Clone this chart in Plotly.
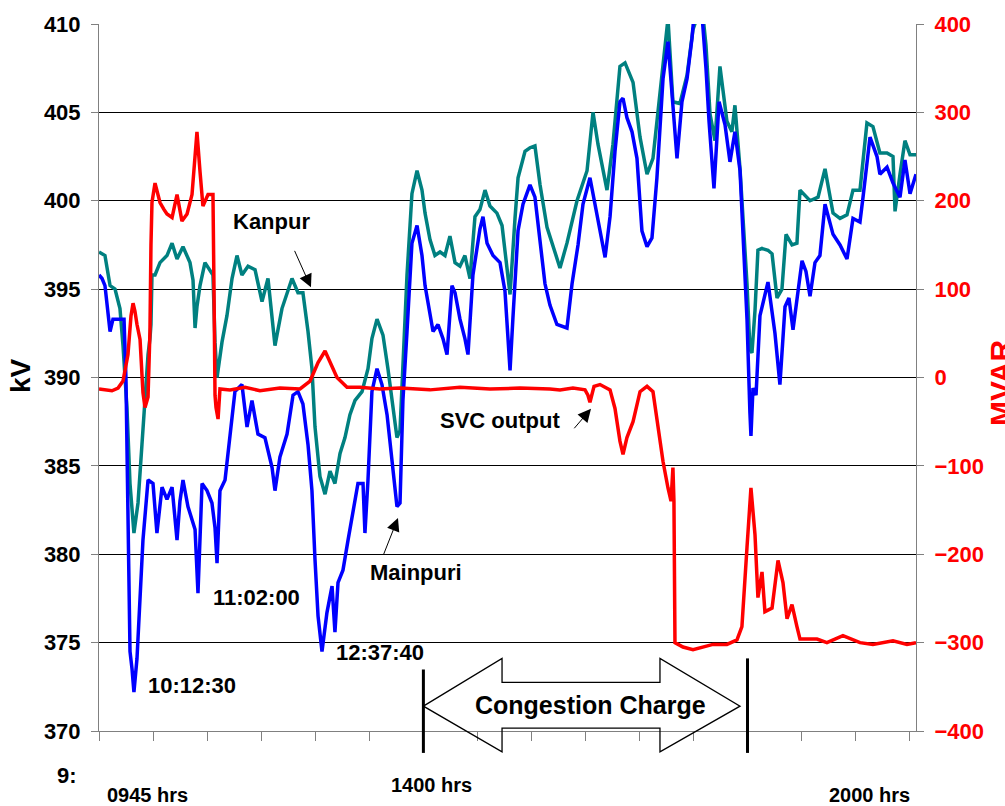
import plotly.graph_objects as go

# time in minutes after 09:45
kanpur_t = [0, 4.7, 8.7, 12.6, 16.5, 18.9, 22.0, 24.4, 27.5, 30.7, 33.8, 36.2, 38.6, 40.1, 40.9, 41.7,
            44.1, 48.0, 53.5, 57.5, 61.4, 66.1, 71.6, 74.0, 75.6, 77.1, 79.5, 83.4, 87.4, 89.7, 91.3,
            92.9, 96.8, 100.7, 104.7, 108.6, 112.5, 117.3, 122.8, 128.3, 133.0, 138.5, 144.0, 151.9,
            156.6, 160.5, 164.5, 167.6, 170.0, 173.9, 177.9, 181.8, 185.7, 189.7, 193.6, 197.5, 201.5,
            207.0, 211.7, 214.8, 218.8, 223.5, 227.4, 231.4, 234.5, 236.9, 239.2, 242.4, 246.3, 250.3,
            254.2, 256.6, 260.5, 264.4, 268.4, 272.3, 276.2, 280.2, 284.1, 288.0, 292.0, 295.9, 299.8,
            303.8, 307.7, 313.2, 317.2, 321.1, 323.5, 327.4, 329.8, 335.3, 339.2, 343.1, 347.1, 352.6,
            360.4, 362.8, 368.3, 376.2, 384.1, 388.8, 392.7, 399.8, 404.5, 410.0, 414.0, 420.3, 425.8,
            431.3, 436.0, 441.5, 447.8, 451.7, 457.2, 462.8, 467.5, 471.4, 475.3, 477.7, 480.9, 484.8,
            488.7, 494.2, 498.1, 500.5, 504.5, 510.0, 512.3, 513.9, 516.3, 518.6, 521.8, 526.5, 529.7,
            533.6, 537.5, 540.7, 545.4, 549.3, 551.7, 559.6, 565.9, 571.4, 577.7, 583.2, 588.7, 593.4,
            598.9, 604.4, 609.1, 614.6, 620.2, 624.9, 626.5, 630.4, 634.3, 638.3, 643.0]
kanpur_kv = [397.1, 396.9, 395.2, 395.0, 393.9, 391.8, 388.3, 384.0, 381.2, 382.9, 386.2, 389.0, 391.3, 392.2, 393.0, 395.8,
             395.8, 396.5, 396.9, 397.6, 396.7, 397.4, 396.5, 395.5, 392.8, 394.0, 395.2, 396.5, 396.1, 395.8, 392.0,
             390.0, 392.0, 393.5, 395.6, 396.9, 395.8, 396.3, 396.1, 394.3, 395.6, 391.8, 393.9, 395.6,
             394.8, 394.8, 392.6, 390.5, 387.2, 384.4, 383.4, 384.7, 384.0, 385.7, 386.6, 387.9, 388.7,
             389.2, 390.5, 392.2, 393.3, 392.4, 390.5, 388.1, 386.6, 387.0, 390.5, 395.8, 400.4, 401.7,
             400.6, 399.3, 397.8, 396.9, 397.1, 396.9, 398.0, 396.5, 396.3, 396.9, 395.6, 399.1, 399.5,
             400.6, 399.7, 399.3, 398.6, 396.0, 394.7, 399.0, 401.3, 402.8, 403.0, 403.1, 400.9, 398.5,
             396.8, 396.2, 397.6, 400.0, 401.7, 405.0, 403.2, 400.6, 403.2, 407.6, 407.8, 406.7, 403.6,
             401.5, 402.4, 406.2, 410.3, 405.6, 405.5, 407.1, 409.7, 410.5, 410.5, 408.8, 404.9, 403.4,
             407.6, 404.5, 403.9, 405.4, 401.8, 395.3, 391.6, 391.4, 393.8, 397.2, 397.3, 397.2, 397.0,
             394.5, 395.0, 398.1, 397.5, 397.6, 400.6, 400.0, 400.2, 401.8, 399.3, 399.0, 399.2, 400.6,
             400.6, 404.4, 404.2, 402.7, 402.7, 402.5, 399.4, 401.5, 403.4, 402.6, 402.6]

mainpuri_t = [0, 2.4, 4.7, 7.1, 8.7, 11.0, 19.7, 21.2, 22.8, 24.4, 26.0, 27.5, 29.9, 32.3, 34.6, 38.6,
              42.5, 45.6, 49.6, 53.5, 57.5, 61.4, 63.7, 66.1, 70.0, 75.6, 77.9, 81.1, 85.0, 88.9, 91.3,
              92.9, 95.2, 99.2, 103.1, 107.0, 112.5, 116.5, 120.4, 125.1, 130.6, 136.2, 138.5, 142.4,
              148.0, 152.7, 156.6, 160.5, 164.5, 167.6, 170.0, 172.4, 175.5, 179.4, 183.4, 185.7, 188.1,
              192.0, 196.0, 199.9, 203.8, 207.8, 209.3, 211.7, 214.8, 218.8, 222.7, 226.7, 230.6, 234.5,
              236.9, 239.2, 242.4, 246.3, 250.3, 254.2, 256.6, 258.9, 262.9, 266.8, 270.7, 273.9, 277.8,
              280.2, 284.1, 288.0, 290.4, 294.3, 299.8, 302.2, 305.4, 310.1, 315.6, 319.5, 323.5, 325.8,
              329.8, 333.7, 339.2, 343.1, 347.1, 351.0, 354.9, 360.4, 368.3, 372.3, 377.0, 380.9, 386.4,
              390.4, 395.9, 398.3, 402.2, 406.1, 410.0, 412.4, 415.5, 419.5, 423.4, 427.3, 431.3, 435.2,
              439.1, 443.9, 447.8, 451.7, 454.9, 458.8, 462.8, 466.7, 468.3, 474.6, 477.7, 480.1, 484.0,
              488.0, 492.7, 496.6, 500.5, 504.5, 507.6, 510.0, 512.3, 513.1, 514.7, 517.1, 520.2, 526.5,
              532.0, 535.9, 539.9, 543.0, 546.2, 550.1, 553.3, 556.4, 559.6, 563.5, 567.4, 571.4, 577.7,
              583.2, 588.7, 593.4, 598.9, 601.3, 606.8, 612.3, 614.6, 620.2, 624.9, 630.4, 634.3, 638.3, 643.0]
mainpuri_kv = [395.8, 395.6, 395.2, 393.5, 392.6, 393.3, 393.3, 390.0, 381.9, 374.5, 373.5, 372.2, 374.1, 377.5, 380.8, 384.2,
               384.0, 381.2, 383.8, 383.1, 383.8, 380.8, 383.0, 384.2, 382.7, 381.4, 377.8, 384.0, 383.6, 382.9, 381.5,
               379.5, 383.6, 384.2, 386.8, 389.2, 389.6, 387.2, 388.7, 386.8, 386.6, 384.9, 383.6, 385.5,
               386.8, 389.0, 389.2, 388.5, 386.2, 383.6, 379.7, 376.5, 374.5, 376.7, 378.2, 375.6, 378.4,
               379.1, 380.8, 382.3, 384.0, 384.0, 381.2, 384.2, 389.2, 390.5, 389.6, 387.9, 385.3, 382.7,
               382.9, 388.7, 392.6, 397.6, 398.6, 396.9, 395.2, 394.3, 392.6, 393.0, 392.2, 391.3, 395.2,
               394.8, 393.3, 392.2, 391.3, 395.8, 398.4, 399.1, 397.6, 396.9, 396.5, 394.9, 390.4, 393.4,
               398.3, 399.8, 400.9, 400.2, 397.5, 395.3, 394.1, 393.0, 392.8, 395.3, 397.5, 399.8, 401.3,
               399.8, 397.6, 396.8, 399.1, 402.8, 405.6, 405.8, 404.7, 403.9, 402.4, 398.3, 397.4, 397.9,
               401.3, 406.9, 409.0, 405.6, 402.4, 405.6, 406.9, 409.2, 410.5, 410.5, 407.5, 404.5, 400.7,
               405.6, 404.3, 402.2, 403.9, 401.7, 397.0, 393.3, 388.0, 386.7, 389.4, 389.0, 393.5, 395.4,
               392.5, 389.6, 394.0, 394.5, 392.7, 395.0, 396.6, 396.0, 394.6, 396.5, 396.9, 399.8, 398.1,
               397.5, 396.7, 399.0, 398.8, 400.2, 403.6, 402.5, 401.5, 401.9, 401.0, 400.2, 402.3, 400.4, 401.5]

svc_t = [0, 5.5, 10.2, 15.0, 18.9, 22.8, 25.2, 26.8, 28.3, 29.9, 32.3, 34.6, 36.2, 38.6, 40.1, 40.9, 41.7,
         44.1, 46.4, 48.0, 51.2, 53.5, 57.5, 61.4, 65.3, 69.3, 73.2, 75.6, 77.1, 79.5, 81.8, 85.8, 89.7,
         90.5, 91.3, 92.1, 93.7, 95.2, 103.1, 114.9, 126.7, 142.4, 158.2, 166.1, 172.4, 177.9, 181.8,
         187.3, 195.2, 205.4, 221.1, 236.9, 260.5, 284.1, 307.7, 331.3, 354.9, 362.8, 373.0, 382.5,
         384.8, 386.4, 389.6, 394.3, 402.2, 406.1, 410.0, 412.4, 415.5, 420.3, 425.8, 431.3, 436.0,
         439.9, 443.9, 447.8, 450.2, 451.7, 452.5, 453.3, 459.6, 467.5, 475.3, 483.2, 494.2, 502.1,
         506.0, 508.4, 510.0, 513.1, 516.3, 518.6, 521.8, 524.1, 529.7, 534.4, 538.3, 541.5, 545.4,
         549.3, 551.7, 565.1, 572.9, 585.5, 598.9, 609.1, 624.9, 635.9, 643.0]
svc_mvar = [-13, -14, -15, -12, -4, 26, 70, 84, 75, 60, 43, -17, -34, -22, 52, 150, 198,
            220, 205, 198, 190, 185, 181, 207, 177, 185, 207, 258, 278, 233, 194, 207, 207,
            100, -20, -34, -47, -13, -14, -11, -15, -12, -13, -4, 17, 30, 17,
            0, -11, -11, -13, -12, -14, -11, -13, -12, -13, -14, -12, -14,
            -20, -28, -10, -8, -14, -35, -72, -87, -68, -50, -16, -10, -16,
            -53, -95, -125, -140, -102, -140, -300, -305, -308, -305, -302, -302, -297,
            -282, -222, -192, -125, -178, -249, -220, -265, -261, -207, -232, -273, -257,
            -282, -296, -296, -300, -292, -300, -302, -298, -302, -300]

kv_ticks = [370, 375, 380, 385, 390, 395, 400, 405, 410]
mvar_ticks = [-400, -300, -200, -100, 0, 100, 200, 300, 400]

FONT = "Liberation Sans"

fig = go.Figure()
fig.add_trace(go.Scatter(x=kanpur_t, y=kanpur_kv, mode="lines", name="Kanpur",
                         line=dict(color="#008080", width=3.5)))
fig.add_trace(go.Scatter(x=mainpuri_t, y=mainpuri_kv, mode="lines", name="Mainpuri",
                         line=dict(color="#0000FF", width=3.5)))
fig.add_trace(go.Scatter(x=svc_t, y=svc_mvar, mode="lines", name="SVC output", yaxis="y2",
                         line=dict(color="#FF0000", width=3.5)))

fig.update_layout(
    width=1005, height=806,
    margin=dict(l=99, r=89, t=20, b=75),
    paper_bgcolor="white", plot_bgcolor="white",
    showlegend=False,
    font=dict(family=FONT, size=22, color="black", weight="bold"),
    xaxis=dict(range=[0, 643], tickmode="linear", tick0=0, dtick=42.5,
               showticklabels=False, ticks="outside", ticklen=9, tickwidth=1, tickcolor="#808080",
               showgrid=False, zeroline=False, showline=True, linecolor="#808080", linewidth=1),
    yaxis=dict(range=[370, 410], tickmode="array", tickvals=kv_ticks,
               ticks="outside", ticklen=7, tickcolor="#808080", ticklabelstandoff=6,
               tickfont=dict(family=FONT, size=22, color="black", weight="bold"),
               showgrid=True, gridcolor="#000000", gridwidth=1,
               zeroline=False, showline=True, linecolor="#808080", linewidth=1),
    yaxis2=dict(range=[-400, 400], tickmode="array", tickvals=mvar_ticks, overlaying="y", side="right",
                ticks="outside", ticklen=7, tickcolor="#808080", ticklabelstandoff=6,
                tickfont=dict(family=FONT, size=22, color="#FF0000", weight="bold"),
                showgrid=False, zeroline=False, showline=True, linecolor="#808080", linewidth=1),
)

bold = dict(family=FONT, size=22, color="black", weight="bold")
labels = [
    ("Kanpur", 135.4, 398.8),
    ("11:02:00", 123.6, 377.55),
    ("10:12:30", 73.2, 372.55),
    ("12:37:40", 221.1, 374.45),
    ("Mainpuri", 249.5, 378.95),
    ("SVC output", 315.6, 387.56),
]
for txt, xv, yv in labels:
    fig.add_annotation(x=xv, y=yv, xref="x", yref="y", text=txt, showarrow=False, font=bold,
                       xanchor="center", yanchor="middle")

# pointer arrows (tip in data coords, tail offset in px)
for xv, yv, ax, ay in [(166.8, 395.1, -17, -38), (235.3, 382.05, -15, 38), (387.2, 388.23, -18, 21)]:
    fig.add_annotation(x=xv, y=yv, xref="x", yref="y", text="", showarrow=True,
                       ax=ax, ay=ay, arrowhead=2, arrowsize=2.6, arrowwidth=1, arrowcolor="black")

# Congestion charge double arrow (x in minutes, y in paper fraction)
cc_start, cc_end = 255.3, 510.4
path = ("M 255.3,0.0352 L 317.2,0.1027 L 317.2,0.0689 L 441.5,0.0689 L 441.5,0.1027 "
        "L 504.5,0.0352 L 441.5,-0.0295 L 441.5,0.0042 L 317.2,0.0042 L 317.2,-0.0295 Z")
fig.add_shape(type="path", path=path, xref="x", yref="paper",
              line=dict(color="black", width=1.3), fillcolor="rgba(0,0,0,0)")
fig.add_shape(type="line", x0=cc_start, x1=cc_start, y0=-0.031, y1=0.087, xref="x", yref="paper",
              line=dict(color="black", width=3))
fig.add_shape(type="line", x0=cc_end, x1=cc_end, y0=-0.031, y1=0.1027, xref="x", yref="paper",
              line=dict(color="black", width=3))
fig.add_annotation(x=386.8, y=0.0366, xref="x", yref="paper", text="Congestion Charge",
                   xanchor="center", yanchor="middle",
                   showarrow=False, font=dict(family=FONT, size=25, color="black", weight="bold"))

# x-axis hour labels and axis titles (paper coords)
def px_x(p):
    return (p - 99) / 817
def px_y(p):
    return (731 - p) / 711

small = dict(family=FONT, size=20, color="black", weight="bold")
for txt, cx, cy in [("0945 hrs", 147, 795), ("1400 hrs", 431, 785), ("2000 hrs", 869, 795)]:
    fig.add_annotation(x=px_x(cx), y=px_y(cy), xref="paper", yref="paper", text=txt,
                       xanchor="center", yanchor="middle", showarrow=False, font=small)
fig.add_annotation(x=px_x(55), y=px_y(776), xref="paper", yref="paper", text="9:",
                   xanchor="left", yanchor="middle", showarrow=False,
                   font=dict(family=FONT, size=22, color="black", weight="bold"))
fig.add_annotation(x=px_x(20), y=px_y(374), xref="paper", yref="paper", text="kV", textangle=-90,
                   xanchor="center", yanchor="middle", showarrow=False,
                   font=dict(family=FONT, size=28, color="black", weight="bold"))
fig.add_annotation(x=px_x(1001), y=px_y(381), xref="paper", yref="paper", text="MVAR", textangle=-90,
                   xanchor="center", yanchor="middle", showarrow=False,
                   font=dict(family=FONT, size=30, color="#FF0000", weight="bold"))

fig.write_html("out.html")
